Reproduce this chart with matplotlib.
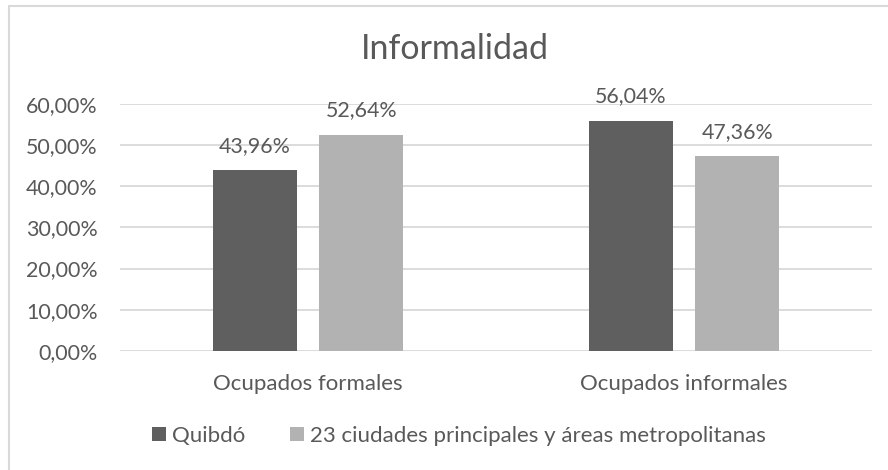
import matplotlib.pyplot as plt
import matplotlib.patches as patches
from matplotlib.ticker import FuncFormatter

categories = ['Ocupados formales', 'Ocupados informales']
series_names = ['Quibdó', '23 ciudades principales y áreas metropolitanas']
quibdo = [43.96, 56.04]
ciudades = [52.64, 47.36]
y_ticks = [0, 10, 20, 30, 40, 50, 60]

DARK = '#5f5f5f'
LIGHT = '#b2b2b2'
TEXT = '#595959'
GRID = '#d9d9d9'

plt.rcParams['font.family'] = ['Lato', 'DejaVu Sans']


def fmt_pct(value):
    return f'{value:.2f}'.replace('.', ',') + '%'


def main():
    fig = plt.figure(figsize=(8.88, 4.70), dpi=100)
    # light outline of the chart area, right and bottom edges fall outside the image
    fig.patches.append(patches.Rectangle((8.5 / 888, -0.1), 1.1, 1.1 - 5.5 / 470,
                                         transform=fig.transFigure, fill=False,
                                         edgecolor='#d9d9d9', linewidth=1.5))
    ax = fig.add_axes([120 / 888, 119.3 / 470, 752 / 888, 246.4 / 470])

    width = 0.223
    offset = 0.142
    x = list(range(len(categories)))
    bars1 = ax.bar([i - offset for i in x], quibdo, width, color=DARK, label=series_names[0], zorder=3)
    bars2 = ax.bar([i + offset for i in x], ciudades, width, color=LIGHT, label=series_names[1], zorder=3)

    for bars, values in ((bars1, quibdo), (bars2, ciudades)):
        for bar, v in zip(bars, values):
            ax.annotate(fmt_pct(v), (bar.get_x() + bar.get_width() / 2, v),
                        xytext=(0, 13), textcoords='offset points',
                        ha='center', va='baseline', fontsize=15.4, color=TEXT)

    ax.set_xlim(-0.5, 1.5)
    ax.set_ylim(0, 60)
    ax.set_yticks(y_ticks)
    ax.yaxis.set_major_formatter(FuncFormatter(lambda v, p: fmt_pct(v)))
    ax.set_xticks(x)
    ax.set_xticklabels(categories)
    ax.tick_params(axis='both', length=0, colors=TEXT)
    ax.tick_params(axis='y', labelsize=15.4, pad=16)
    ax.tick_params(axis='x', labelsize=16, pad=17)
    ax.grid(axis='y', color=GRID, linewidth=1.3, zorder=0)
    for s in ax.spines.values():
        s.set_visible(False)

    fig.text(455 / 888, 1 - 49 / 470, 'Informalidad', ha='center', va='center',
             fontsize=24.5, color=TEXT)

    fig.legend(loc='center', bbox_to_anchor=(459 / 888, 1 - 436 / 470), ncol=2,
               frameon=False, fontsize=16, labelcolor=TEXT, handlelength=0.63,
               handleheight=0.63, handletextpad=0.27, columnspacing=2.0,
               borderpad=0, borderaxespad=0)

    fig.savefig('out.png', dpi=100)


if __name__ == '__main__':
    main()
